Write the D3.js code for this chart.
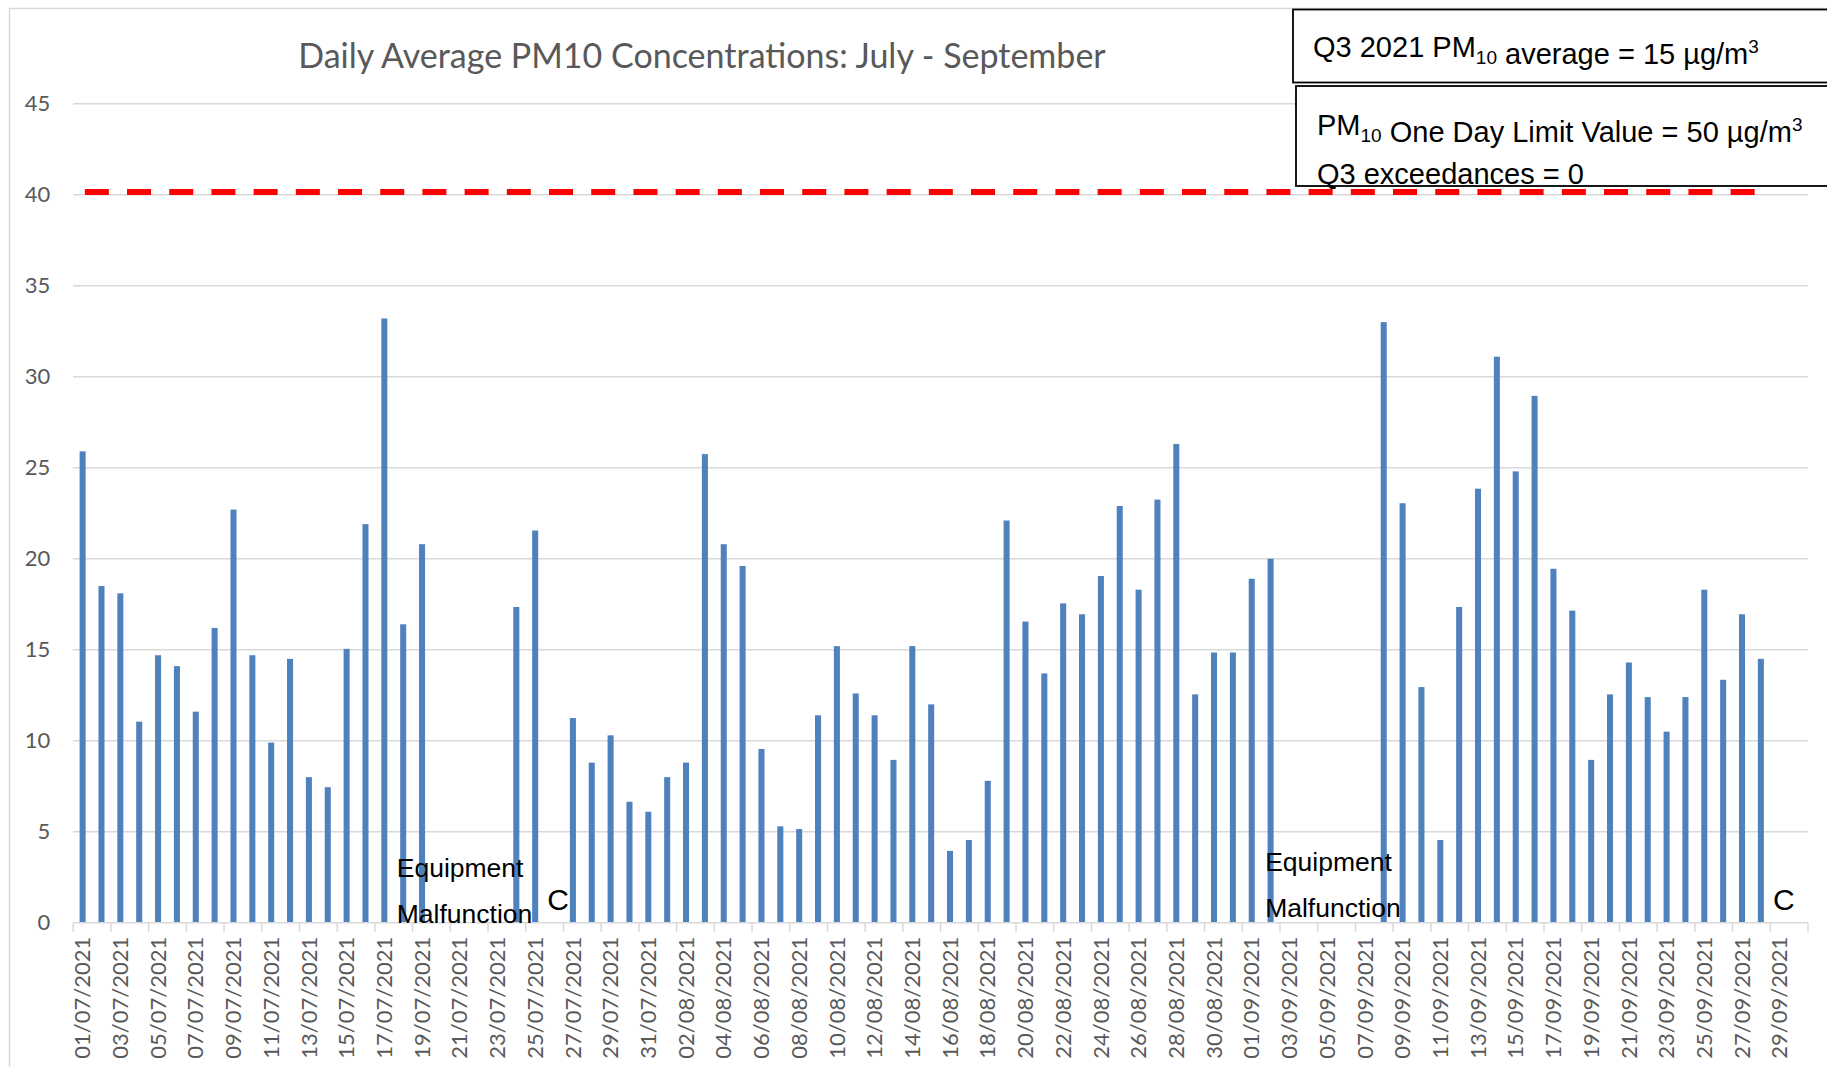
<!DOCTYPE html>
<html><head><meta charset="utf-8">
<script src="https://cdn.jsdelivr.net/npm/d3@7"></script>
<style>html,body{margin:0;padding:0;background:#fff;overflow:hidden}</style>
</head><body>
<svg id="chart" width="1827" height="1067"></svg>
<script>
// ---- DATA ----
const dates = [
 "01/07/2021","02/07/2021","03/07/2021","04/07/2021","05/07/2021","06/07/2021","07/07/2021","08/07/2021","09/07/2021","10/07/2021",
 "11/07/2021","12/07/2021","13/07/2021","14/07/2021","15/07/2021","16/07/2021","17/07/2021","18/07/2021","19/07/2021","20/07/2021",
 "21/07/2021","22/07/2021","23/07/2021","24/07/2021","25/07/2021","26/07/2021","27/07/2021","28/07/2021","29/07/2021","30/07/2021","31/07/2021",
 "01/08/2021","02/08/2021","03/08/2021","04/08/2021","05/08/2021","06/08/2021","07/08/2021","08/08/2021","09/08/2021","10/08/2021",
 "11/08/2021","12/08/2021","13/08/2021","14/08/2021","15/08/2021","16/08/2021","17/08/2021","18/08/2021","19/08/2021","20/08/2021",
 "21/08/2021","22/08/2021","23/08/2021","24/08/2021","25/08/2021","26/08/2021","27/08/2021","28/08/2021","29/08/2021","30/08/2021","31/08/2021",
 "01/09/2021","02/09/2021","03/09/2021","04/09/2021","05/09/2021","06/09/2021","07/09/2021","08/09/2021","09/09/2021","10/09/2021",
 "11/09/2021","12/09/2021","13/09/2021","14/09/2021","15/09/2021","16/09/2021","17/09/2021","18/09/2021","19/09/2021","20/09/2021",
 "21/09/2021","22/09/2021","23/09/2021","24/09/2021","25/09/2021","26/09/2021","27/09/2021","28/09/2021","29/09/2021","30/09/2021"
];
const pm10 = [
 25.9,18.5,18.1,11.05,14.7,14.1,11.6,16.2,22.7,14.7,
 9.9,14.5,8.0,7.45,15.05,21.9,33.2,16.4,20.8,null,
 null,null,null,17.35,21.55,null,11.25,8.8,10.3,6.65,6.1,
 8.0,8.8,25.75,20.8,19.6,9.55,5.3,5.15,11.4,15.2,
 12.6,11.4,8.95,15.2,12.0,3.95,4.55,7.8,22.1,16.55,
 13.7,17.55,16.95,19.05,22.9,18.3,23.25,26.3,12.55,14.85,14.85,
 18.9,20.0,null,null,null,null,null,33.0,23.05,12.95,
 4.55,17.35,23.85,31.1,24.8,28.95,19.45,17.15,8.95,12.55,
 14.3,12.4,10.5,12.4,18.3,13.35,16.95,14.5,null,null
];
const xTickLabels = dates.filter((d, i) => i % 2 === 0);
const yTicks = [0, 5, 10, 15, 20, 25, 30, 35, 40, 45];
const limitLine = { value: 40.15, from: "01/07/2021", to: "28/09/2021" };
const malfunctionNotes = [
 { date: "18/07/2021", lines: ["Equipment", "Malfunction"] },
 { date: "02/09/2021", lines: ["Equipment", "Malfunction"] }
];
const cNotes = ["26/07/2021", "29/09/2021"];
const title = "Daily Average PM10 Concentrations: July - September";

// ---- LAYOUT ----
const svg = d3.select("#chart");
const plotL = 73.2, plotR = 1808, y0 = 922.8, yTop = 103.7;
const grid = "#d9d9d9", textGray = "#595959", barBlue = "#4F81BD";

const x = d3.scaleBand().domain(dates).range([plotL, plotR]).paddingInner(0.68).paddingOuter(0.34);
const xCat = d3.scaleBand().domain(dates).range([plotL, plotR]).padding(0);
const y = d3.scaleLinear().domain([0, 45]).range([y0, yTop]);

// chart frame
svg.append("rect").attr("x", 9.5).attr("y", 8.5).attr("width", 4000).attr("height", 4000)
  .attr("fill", "#fff").attr("stroke", grid).attr("stroke-width", 1.5);

// title
const t = svg.append("text").attr("x", 702).attr("y", 68).attr("text-anchor", "middle")
  .attr("fill", textGray).style("font-family", "Lato").style("font-size", "30px").text(title);
const tw = t.node().getComputedTextLength();
t.style("font-size", (30 * 808 / tw) + "px");

// gridlines (not at 0)
svg.append("g").selectAll("line").data(yTicks.filter(d => d > 0)).join("line")
  .attr("x1", plotL).attr("x2", plotR).attr("y1", d => y(d)).attr("y2", d => y(d))
  .attr("stroke", grid).attr("stroke-width", 1.5);

// y axis labels
const yAxis = svg.append("g").attr("transform", `translate(${plotL},0)`)
  .call(d3.axisLeft(y).tickValues(yTicks).tickSize(0).tickPadding(23));
yAxis.select(".domain").remove();
yAxis.selectAll("text").attr("fill", textGray).style("font-family", "Lato").style("font-size", "22px");

// bars
svg.append("g").selectAll("rect").data(dates.map((d, i) => ({ d, v: pm10[i] })).filter(o => o.v !== null))
  .join("rect")
  .attr("x", o => x(o.d)).attr("width", x.bandwidth())
  .attr("y", o => y(o.v)).attr("height", o => y(0) - y(o.v))
  .attr("fill", barBlue);

// x axis
const tickPos = xTickLabels.map(d => xCat(d)).concat([plotR]);
svg.append("line").attr("x1", plotL).attr("x2", plotR).attr("y1", y0).attr("y2", y0)
  .attr("stroke", grid).attr("stroke-width", 1.5);
svg.append("g").selectAll("line").data(tickPos).join("line")
  .attr("x1", d => d).attr("x2", d => d).attr("y1", y0).attr("y2", y0 + 9)
  .attr("stroke", grid).attr("stroke-width", 1.5);
svg.append("g").selectAll("text").data(xTickLabels).join("text")
  .attr("transform", d => `translate(${xCat(d) + xCat.bandwidth() / 2},${y0 + 14}) rotate(-90)`)
  .attr("text-anchor", "end").attr("dy", "0.35em")
  .attr("fill", textGray).style("font-family", "Lato").style("font-size", "22px")
  .text(d => d);

// limit line
const lx1 = xCat(limitLine.from) + xCat.bandwidth() / 2;
const lx2 = xCat(limitLine.to) + xCat.bandwidth() / 2 + 6;
svg.append("line").attr("x1", lx1).attr("x2", lx2)
  .attr("y1", y(limitLine.value)).attr("y2", y(limitLine.value))
  .attr("stroke", "#FF0000").attr("stroke-width", 6)
  .attr("stroke-dasharray", "24 18.2").attr("stroke-dashoffset", 40);

// annotations
const noteOffsets = [{ dx: 3, dy: 0 }, { dx: 4, dy: -6 }];
malfunctionNotes.forEach((n, k) => {
  const g = svg.append("text").attr("fill", "#000")
    .style("font-family", "'Liberation Sans', Arial, sans-serif").style("font-size", "26.5px");
  n.lines.forEach((ln, j) => {
    g.append("tspan").attr("x", xCat(n.date) + noteOffsets[k].dx)
      .attr("y", y0 - 46 + j * 46 + noteOffsets[k].dy).text(ln);
  });
});
svg.append("g").selectAll("text").data(cNotes).join("text")
  .attr("x", d => xCat(d) + xCat.bandwidth() / 2 + 4).attr("y", y0 - 13)
  .attr("text-anchor", "middle").attr("fill", "#000")
  .style("font-family", "'Liberation Sans', Arial, sans-serif").style("font-size", "30px")
  .text("C");

// text boxes
const boxFont = "'Liberation Sans', Arial, sans-serif";
svg.append("rect").attr("x", 1293).attr("y", 9.5).attr("width", 700).attr("height", 73)
  .attr("fill", "#fff").attr("stroke", "#000").attr("stroke-width", 1.8);
svg.append("rect").attr("x", 1296).attr("y", 86).attr("width", 700).attr("height", 100)
  .attr("fill", "#fff").attr("stroke", "#000").attr("stroke-width", 1.8);

function richLine(xp, yp, parts) {
  const tx = svg.append("text").attr("x", xp).attr("y", yp).attr("fill", "#000")
    .style("font-family", boxFont).style("font-size", "29px");
  parts.forEach(p => {
    if (p.sub) {
      tx.append("tspan").attr("dy", 7).style("font-size", "19px").text(p.sub);
      tx.append("tspan").attr("dy", -7).text("");
    } else if (p.sup) {
      tx.append("tspan").attr("dy", -11).style("font-size", "19px").text(p.sup);
      tx.append("tspan").attr("dy", 11).text("");
    } else {
      tx.append("tspan").text(p.t);
    }
  });
}
richLine(1313, 57, [{ t: "Q3 2021 PM" }, { sub: "10" }, { t: " average = 15 µg/m" }, { sup: "3" }]);
richLine(1317, 135, [{ t: "PM" }, { sub: "10" }, { t: " One Day Limit Value = 50 µg/m" }, { sup: "3" }]);
richLine(1317, 184, [{ t: "Q3 exceedances = 0" }]);
</script>
</body></html>
